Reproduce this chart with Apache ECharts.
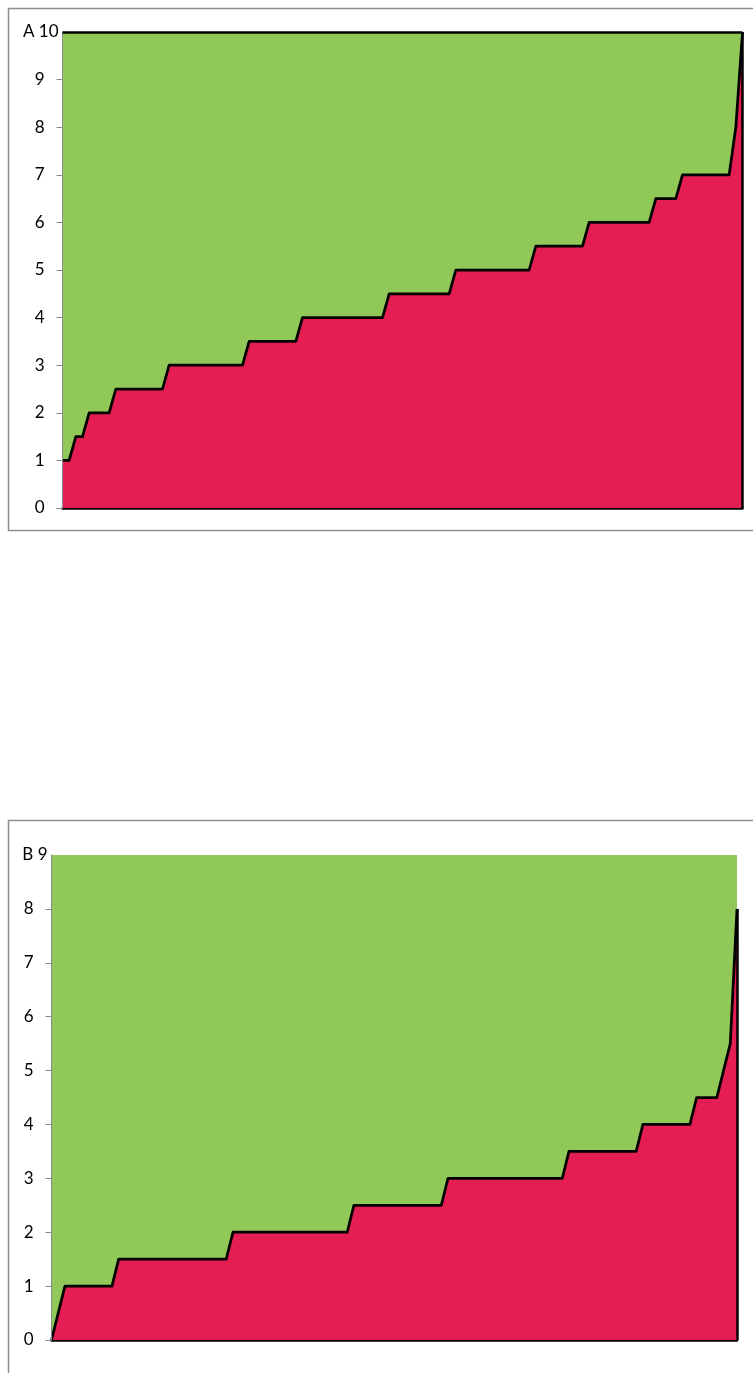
<!DOCTYPE html>
<html>
<head>
<meta charset="utf-8">
<script src="https://cdn.jsdelivr.net/npm/echarts@6/dist/echarts.min.js"></script>
<style>
html,body{margin:0;padding:0;background:#fff;}
#c{width:753px;height:1373px;}
</style>
</head>
<body>
<div id="c"></div>
<script>
// Chart A values (sorted step series, 103 points)
var valuesA = [1,1,1.5,1.5,2,2,2,2,
  2.5,2.5,2.5,2.5,2.5,2.5,2.5,2.5,
  3,3,3,3,3,3,3,3,3,3,3,3,
  3.5,3.5,3.5,3.5,3.5,3.5,3.5,3.5,
  4,4,4,4,4,4,4,4,4,4,4,4,4,
  4.5,4.5,4.5,4.5,4.5,4.5,4.5,4.5,4.5,4.5,
  5,5,5,5,5,5,5,5,5,5,5,5,
  5.5,5.5,5.5,5.5,5.5,5.5,5.5,5.5,
  6,6,6,6,6,6,6,6,6,6,
  6.5,6.5,6.5,6.5,
  7,7,7,7,7,7,7,7,
  8,10];
// Chart B values (103 points)
var valuesB = [0,0.5,
  1,1,1,1,1,1,1,1,
  1.5,1.5,1.5,1.5,1.5,1.5,1.5,1.5,1.5,1.5,1.5,1.5,1.5,1.5,1.5,1.5,1.5,
  2,2,2,2,2,2,2,2,2,2,2,2,2,2,2,2,2,2,
  2.5,2.5,2.5,2.5,2.5,2.5,2.5,2.5,2.5,2.5,2.5,2.5,2.5,2.5,
  3,3,3,3,3,3,3,3,3,3,3,3,3,3,3,3,3,3,
  3.5,3.5,3.5,3.5,3.5,3.5,3.5,3.5,3.5,3.5,3.5,
  4,4,4,4,4,4,4,4,
  4.5,4.5,4.5,4.5,
  5,5.5,8];
var categoriesA = valuesA.map(function(_, i){ return String(i + 1); });
var categoriesB = valuesB.map(function(_, i){ return String(i + 1); });
var yMaxA = 10, yMaxB = 9;
var titleA = 'A 10', titleB = 'B 9';

var GREEN = '#90C957', RED = '#E41E52', FONT = 'Lato';

function yAxis(gi, max, name){
  return {
    type:'value', gridIndex:gi, min:0, max:max, interval:1, z:3,
    name:name, nameLocation:'end', nameGap:0,
    nameTextStyle:{color:'#000', fontFamily:FONT, fontSize:17, align:'right', verticalAlign:'middle', padding:[0,4,0,0]},
    axisLine:{show:true, lineStyle:{color:'#8a8a8a', width:1}},
    axisTick:{show:true, length:6, lineStyle:{color:'#8a8a8a', width:1}},
    axisLabel:{color:'#000', fontFamily:FONT, fontSize:17, margin:18, showMaxLabel:false},
    splitLine:{show:false}
  };
}
function xAxis(gi, cats){
  return {
    type:'category', gridIndex:gi, data:cats, boundaryGap:false,
    axisLine:{show:true, onZero:false, lineStyle:{color:'#000', width:2.5}},
    axisTick:{show:false}, axisLabel:{show:false}, splitLine:{show:false}
  };
}
function series(gi, vals, cats, max, topLine){
  var last = cats.length - 1;
  var ml = [[{coord:[cats[last], 0]}, {coord:[cats[last], vals[last]]}]];
  if (topLine) ml.push([{coord:[cats[0], max]}, {coord:[cats[last], max]}]);
  return {
    type:'line', xAxisIndex:gi, yAxisIndex:gi, data:vals, symbol:'none',
    lineStyle:{color:'#000', width:2.75, join:'round'},
    areaStyle:{color:RED, opacity:1},
    z:2,
    markLine:{silent:true, symbol:['none','none'], label:{show:false},
      lineStyle:{color:'#000', width:2.5, type:'solid'}, data:ml}
  };
}

var chart = echarts.init(document.getElementById('c'), null, {renderer:'canvas'});
chart.setOption({
  animation:false,
  backgroundColor:'#fff',
  grid:[
    {left:62.5, top:32, width:680, height:476, show:true, backgroundColor:GREEN, borderWidth:0},
    {left:51.5, top:855, width:685.5, height:485, show:true, backgroundColor:GREEN, borderWidth:0}
  ],
  xAxis:[xAxis(0, categoriesA), xAxis(1, categoriesB)],
  yAxis:[yAxis(0, yMaxA, titleA), yAxis(1, yMaxB, titleB)],
  series:[series(0, valuesA, categoriesA, yMaxA, true), series(1, valuesB, categoriesB, yMaxB, false)],
  graphic:[
    {type:'rect', silent:true, z:-1, shape:{x:8.5, y:8.5, width:780, height:522}, style:{fill:'none', stroke:'#8d8d8d', lineWidth:1.5}},
    {type:'rect', silent:true, z:-1, shape:{x:8.5, y:820.5, width:780, height:620}, style:{fill:'none', stroke:'#8d8d8d', lineWidth:1.5}}
  ]
});
</script>
</body>
</html>
